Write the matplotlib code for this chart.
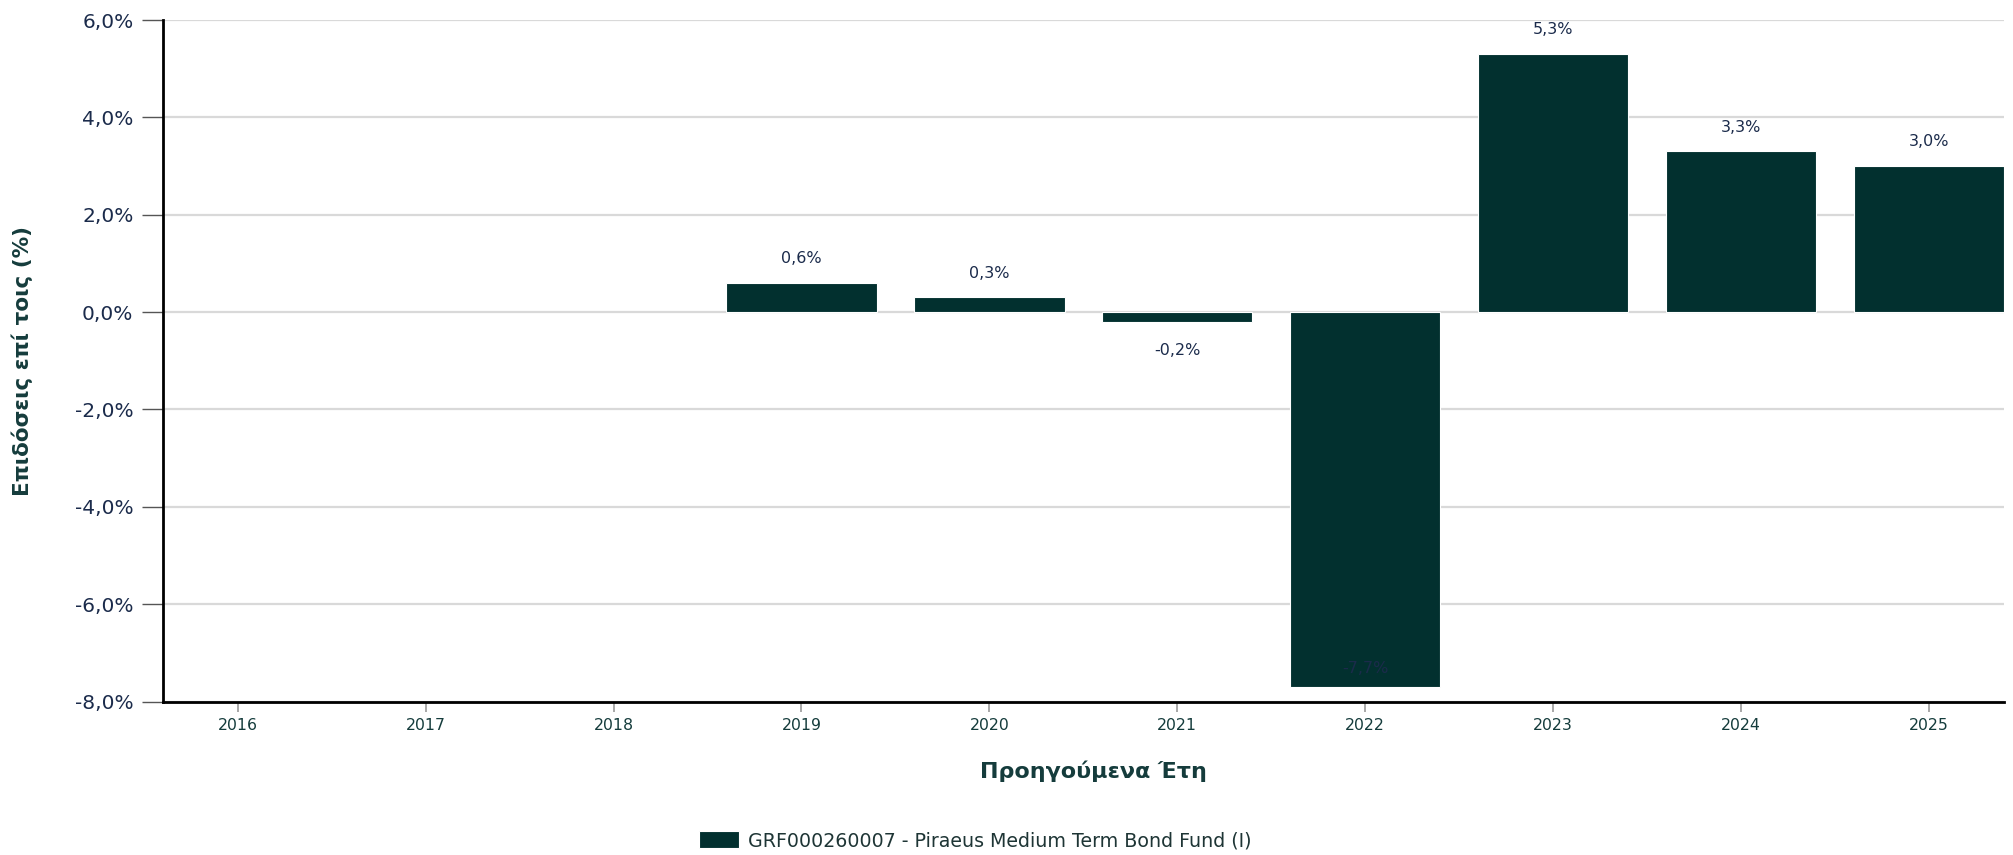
import numpy as np
import matplotlib
matplotlib.use('Agg')
import matplotlib.pyplot as plt
from matplotlib.ticker import FuncFormatter


years = ['2016', '2017', '2018', '2019', '2020', '2021', '2022', '2023', '2024', '2025']
returns = [np.nan, np.nan, np.nan, 0.6, 0.3, -0.2, -7.7, 5.3, 3.3, 3.0]
fund_name = 'GRF000260007 - Piraeus Medium Term Bond Fund (I)'
y_title = 'Επιδόσεις επί τοις (%)'
x_title = 'Προηγούμενα Έτη'

BAR = '#02302f'
NAVY = '#1b2b4b'
TEAL = '#153c3c'

plt.rcParams['font.family'] = ['DejaVu Sans']

fig = plt.figure(figsize=(20.13, 8.55), dpi=100)
ax = fig.add_axes([0.0808, 0.1795, 0.9147, 0.7971])

x = np.arange(len(years))
bars = ax.bar(x, returns, width=0.8, color=BAR, edgecolor='white', linewidth=0.8,
              zorder=3, label=fund_name)

# value labels (the big negative one sits inside the bar, as in the original)
for xi, v in zip(x, returns):
    if np.isnan(v):
        continue
    txt = ('%.1f%%' % v).replace('.', ',')
    if v >= 0:
        ax.annotate(txt, (xi, v), xytext=(0, 17.5), textcoords='offset points',
                    ha='center', va='center', fontsize=11.5, color=NAVY)
    elif v > -7.0:
        ax.annotate(txt, (xi, v), xytext=(0, -21), textcoords='offset points',
                    ha='center', va='center', fontsize=11.5, color=NAVY)
    else:
        ax.annotate(txt, (xi, v), xytext=(0, 13), textcoords='offset points',
                    ha='center', va='center', fontsize=11.5, color=NAVY, zorder=4)

ax.set_ylim(-8, 6)
ax.set_yticks(np.arange(-8, 7, 2))
ax.yaxis.set_major_formatter(FuncFormatter(lambda v, p: ('%.1f%%' % v).replace('.', ',')))
ax.set_xlim(-0.4, 9.4)
ax.set_xticks(x)
ax.set_xticklabels(years)

ax.grid(axis='y', color='#d9d9d9', linewidth=1.6, zorder=0)
for s in ['top', 'right']:
    ax.spines[s].set_visible(False)
for s in ['left', 'bottom']:
    ax.spines[s].set_color('black')
    ax.spines[s].set_linewidth(2)
    ax.spines[s].set_zorder(5)

ax.tick_params(axis='y', length=15, width=1, color='#555555', labelsize=14.5,
               labelcolor=NAVY, pad=6)
ax.tick_params(axis='x', length=7, width=1.2, color='#999999', labelsize=11.3,
               labelcolor=TEAL, pad=5)

ax.set_ylabel(y_title, fontsize=15.5, fontweight='bold', color=TEAL)
ax.yaxis.set_label_coords(-0.0705, 0.5)
ax.set_xlabel(x_title, fontsize=16, fontweight='bold', color=TEAL)
ax.xaxis.set_label_coords(0.5056, -0.086)

fig.legend(handles=[bars], labels=[fund_name], loc='center',
           bbox_to_anchor=(0.4844, 0.0164), frameon=False, fontsize=13.7,
           handlelength=2.1, handleheight=1.0, handletextpad=0.45,
           labelcolor='#1e3535')

fig.savefig('out.png', dpi=100)
